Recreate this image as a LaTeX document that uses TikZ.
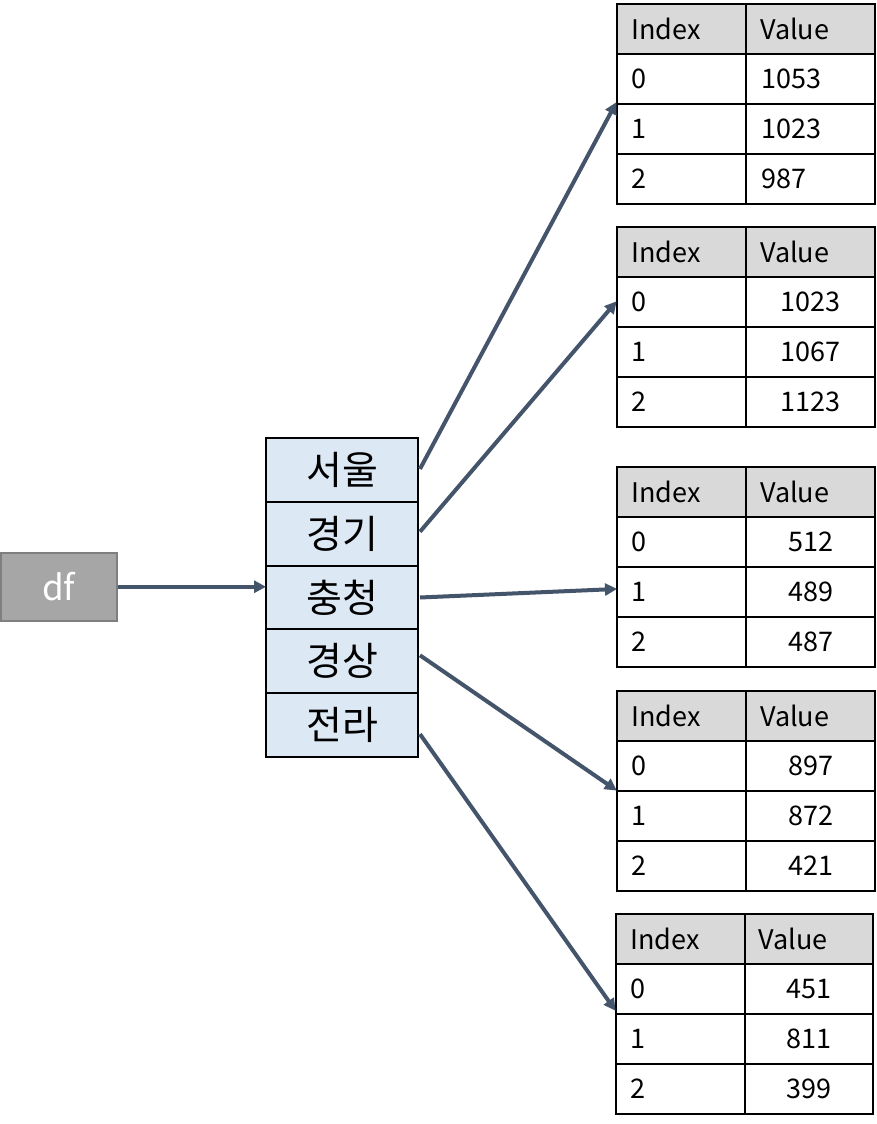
\documentclass[tikz,border=0pt]{standalone}
\usepackage{fontspec}
\setmainfont{Noto Sans CJK KR}
\usetikzlibrary{arrows.meta}
\definecolor{arr}{HTML}{44546A}
\definecolor{dfgray}{HTML}{A6A6A6}
\definecolor{dfborder}{HTML}{7F7F7F}
\definecolor{rowblue}{HTML}{DDE8F5}
\definecolor{hdr}{HTML}{D9D9D9}
\tikzset{
  dfbox/.style={draw=dfborder, line width=1.5pt, fill=dfgray, text=white, minimum width=116pt, minimum height=68pt, inner sep=0pt, anchor=north west, font=\fontsize{35}{40}\selectfont},
  colrow/.style={draw=black, line width=2pt, fill=rowblue, minimum width=152pt, minimum height=63.8pt, inner sep=0pt, anchor=north west, font=\fontsize{39}{44}\selectfont},
  cell/.style={draw=black, line width=2pt, minimum width=129pt, minimum height=50pt, inner sep=0pt, anchor=north west},
  hcell/.style={cell, fill=hdr},
  ctext/.style={font=\fontsize{27}{30}\selectfont, inner sep=0pt},
  conn/.style={draw=arr, line width=4pt, -{Triangle[length=12pt,width=12pt]}, shorten >=-1pt},
}
% #1 name, #2 x, #3 y, #4 width, #5 v0, #6 v1, #7 v2, #8 value align (l or c)
\newcommand\mytable[8]{%
  \node[hcell, minimum width=#4pt] (#1h0) at (#2,#3) {};
  \node[hcell, minimum width=#4pt] (#1h1) at (#2+#4,#3) {};
  \node[ctext, anchor=west] at ([xshift=15pt]#1h0.west) {Index};
  \node[ctext, anchor=west] at ([xshift=15pt]#1h1.west) {Value};
  \foreach \i/\v in {0/#5,1/#6,2/#7}{
    \node[cell, minimum width=#4pt] (#1i\i) at (#2,#3+50+50*\i) {};
    \node[cell, minimum width=#4pt] (#1v\i) at (#2+#4,#3+50+50*\i) {};
    \node[ctext, anchor=west] at ([xshift=15pt]#1i\i.west) {\i};
    \ifx#8l
      \node[ctext, anchor=west] at ([xshift=16pt]#1v\i.west) {\v};
    \else
      \node[ctext] at (#1v\i.center) {\v};
    \fi
  }%
}
\begin{document}
\begin{tikzpicture}[x=1pt, y=-1pt]
\useasboundingbox (0,0) rectangle (877,1124);
\fill[white] (0,0) rectangle (877,1124);

\node[dfbox] (df) at (0,552) {df};

\node[colrow] (r1) at (265,437) {서울};
\node[colrow] (r2) at (265,500.8) {경기};
\node[colrow] (r3) at (265,564.6) {충청};
\node[colrow] (r4) at (265,628.4) {경상};
\node[colrow] (r5) at (265,692.2) {전라};

\mytable{ta}{616}{3}{129}{1053}{1023}{987}{l}
\mytable{tb}{616}{226}{129}{1023}{1067}{1123}{c}
\mytable{tc}{616}{466}{129}{512}{489}{487}{c}
\mytable{td}{616}{690}{129}{897}{872}{421}{c}
\mytable{te}{615}{913}{128.5}{451}{811}{399}{c}

\draw[conn] (df.east) -- (df.east -| r3.west);
\draw[conn] ([xshift=1pt,yshift=1pt]r1.east) -- (tai1.north west);
\draw[conn] ([xshift=1pt,yshift=2pt]r2.east) -- (tbi0.west);
\draw[conn] ([xshift=1pt]r3.east) -- ([yshift=3pt]tci1.west);
\draw[conn] ([xshift=1pt,yshift=6pt]r4.east) -- (tdi1.north west);
\draw[conn] ([xshift=1pt,yshift=-9pt]r5.east) -- ([yshift=3pt]tei1.north west);
\end{tikzpicture}
\end{document}
